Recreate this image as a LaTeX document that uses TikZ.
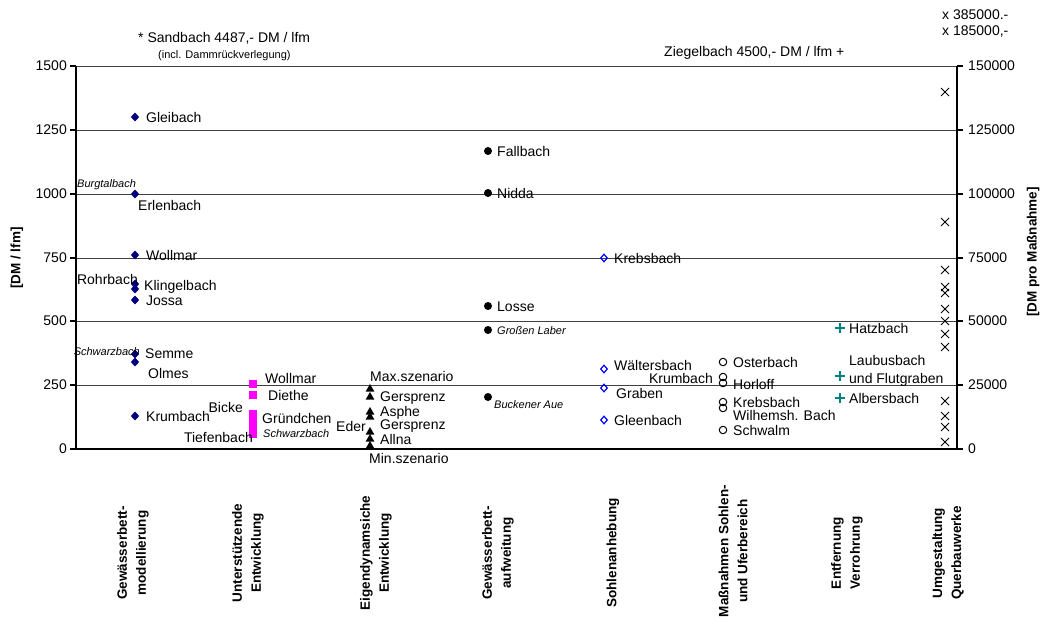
\documentclass[tikz,border=0pt]{standalone}
\usepackage{fontspec}
\setmainfont{Liberation Sans}
\usetikzlibrary{shapes.geometric,shapes.misc}
\definecolor{navy}{RGB}{0,0,128}
\definecolor{mag}{RGB}{255,0,255}
\definecolor{tealc}{RGB}{0,128,128}
\definecolor{blu}{RGB}{0,0,255}
\begin{document}
\begin{tikzpicture}[x=1pt,y=-1pt,
 lab/.style={anchor=base west, inner sep=0pt, font=\fontsize{14}{16}\selectfont},
 labE/.style={lab, anchor=base east},
 sml/.style={anchor=base west, inner sep=0pt, font=\fontsize{11}{13}\selectfont\itshape},
 smlE/.style={sml, anchor=base east},
 tickl/.style={inner sep=0pt, anchor=east, font=\fontsize{14}{16}\selectfont},
 tickr/.style={inner sep=0pt, anchor=west, font=\fontsize{14}{16}\selectfont},
 cat/.style={rotate=90, align=center, font=\fontsize{13.5}{19}\selectfont\bfseries, inner sep=0pt},
 gridl/.style={draw=black!75, line width=0.8pt},
 axisl/.style={draw=black, line width=1.1pt},
 dia/.style={diamond, fill=navy, inner sep=0pt, minimum width=8.5pt, minimum height=9pt},
 sq/.style={rectangle, fill=mag, inner sep=0pt, minimum size=8pt},
 tri/.style={regular polygon, regular polygon sides=3, fill=black, inner sep=0pt, minimum size=10pt},
 dot/.style={circle, fill=black, inner sep=0pt, minimum size=8pt},
 odia/.style={diamond, draw=blu, line width=1.2pt, inner sep=0pt, minimum width=7pt, minimum height=8pt},
 ocirc/.style={circle, draw=black, line width=1pt, inner sep=0pt, minimum size=7.5pt},
 plusm/.style={cross out, draw=tealc, line width=1.2pt, rotate=45, inner sep=0pt, minimum size=6.4pt},
 xm/.style={cross out, draw=black, line width=1pt, inner sep=0pt, minimum size=7pt}
]
\useasboundingbox (0,0) rectangle (1040,623);
\fill[white] (0,0) rectangle (1040,623);
% grid
\foreach \yy in {66,130,194,258,321,385} \draw[gridl] (76,\yy) -- (957,\yy);
\draw[axisl] (76,66) -- (76,449) -- (957,449) -- (957,66);
\foreach \yy in {66,130,194,258,321,385,449} {
  \draw[axisl] (70,\yy) -- (76,\yy);
  \draw[axisl] (957,\yy) -- (963,\yy);
}
% tick labels
\node[tickl] (l0) at (67,449) {0};
\node[tickl] (l1) at (67,385) {250};
\node[tickl] (l2) at (67,321) {500};
\node[tickl] (l3) at (67,258) {750};
\node[tickl] (l4) at (67,194) {1000};
\node[tickl] (l5) at (67,130) {1250};
\node[tickl] (l6) at (67,66) {1500};
\node[tickr] (r0) at (968,449) {0};
\node[tickr] (r1) at (968,385) {25000};
\node[tickr] (r2) at (968,321) {50000};
\node[tickr] (r3) at (968,258) {75000};
\node[tickr] (r4) at (968,194) {100000};
\node[tickr] (r5) at (968,130) {125000};
\node[tickr] (r6) at (968,66) {150000};
% axis titles
\node[cat] (yl) at (17,258) {[DM / lfm]};
\node[cat] (yr) at (1033,252) {[DM pro Maßnahme]};
% top texts
\node[lab] (t1) at (138,43) {* Sandbach 4487,- DM / lfm};
\node[anchor=base west, inner sep=0pt, font=\fontsize{11}{13}\selectfont] (t2) at (158,59) {(incl. Dammrückverlegung)};
\node[lab] (t3) at (664,57) {Ziegelbach 4500,- DM / lfm +};
\node[lab] (t4) at (942,20) {x 385000.-};
\node[lab] (t5) at (942,36) {x 185000,-};
% column 1
\node[dia] (a1) at (135,117) {};
\node[dia] (a2) at (135,194) {};
\node[dia] (a3) at (135,255) {};
\node[dia] (a4) at (135,284) {};
\node[dia] (a5) at (135,289) {};
\node[dia] (a6) at (135,300) {};
\node[dia] (a7) at (135,354) {};
\node[dia] (a8) at (135,362) {};
\node[dia] (a9) at (135,416) {};
\node[lab] (al1) at (146,122) {Gleibach};
\node[sml] (al2) at (77,187) {Burgtalbach};
\node[lab] (al3) at (138,210) {Erlenbach};
\node[lab] (al4) at (146,260) {Wollmar};
\node[labE] (al5) at (138,284) {Rohrbach};
\node[lab] (al6) at (144,290) {Klingelbach};
\node[lab] (al7) at (146,305) {Jossa};
\node[smlE] (al8) at (140,355) {Schwarzbach};
\node[lab] (al9) at (145,358) {Semme};
\node[lab] (al10) at (148,378) {Olmes};
\node[lab] (al11) at (146,421) {Krumbach};
% column 2
\node[sq] (b1) at (253,384) {};
\node[sq] (b2) at (253,395) {};
\node[sq] (b3) at (253,414) {};
\node[sq] (b4) at (253,419) {};
\node[sq] (b5) at (253,424) {};
\node[sq] (b6) at (253,429) {};
\node[sq] (b7) at (253,434) {};
\node[lab] (bl1) at (265,383) {Wollmar};
\node[lab] (bl2) at (268,400) {Diethe};
\node[labE] (bl3) at (243,412) {Bicke};
\node[lab] (bl4) at (262,423) {Gründchen};
\node[sml] (bl5) at (263,437) {Schwarzbach};
\node[labE] (bl6) at (253,442) {Tiefenbach};
% column 3
\node[tri] (c1) at (370,389) {};
\node[tri] (c2) at (370,397) {};
\node[tri] (c3) at (370,412) {};
\node[tri] (c4) at (370,417) {};
\node[tri] (c5) at (370,432) {};
\node[tri] (c6) at (370,439) {};
\node[tri] (c7) at (370,446) {};
\node[lab] (cl1) at (370,381) {Max.szenario};
\node[lab] (cl2) at (380,401) {Gersprenz};
\node[lab] (cl3) at (380,416) {Asphe};
\node[labE] (cl4) at (366,431) {Eder};
\node[lab] (cl5) at (380,429) {Gersprenz};
\node[lab] (cl6) at (380,444) {Allna};
\node[lab] (cl7) at (369,463) {Min.szenario};
% column 4
\node[dot] (d1) at (488,151) {};
\node[dot] (d2) at (488,193) {};
\node[dot] (d3) at (488,306) {};
\node[dot] (d4) at (488,330) {};
\node[dot] (d5) at (488,397) {};
\node[lab] (dl1) at (497,156) {Fallbach};
\node[lab] (dl2) at (497,198) {Nidda};
\node[lab] (dl3) at (497,311) {Losse};
\node[sml] (dl4) at (497,334) {Großen Laber};
\node[sml] (dl5) at (494,408) {Buckener Aue};
% column 5
\node[odia] (e1) at (604,258) {};
\node[odia] (e2) at (604,369) {};
\node[odia] (e3) at (604,388) {};
\node[odia] (e4) at (604,420) {};
\node[lab] (el1) at (614,263) {Krebsbach};
\node[lab] (el2) at (614,370) {Wältersbach};
\node[lab] (el3) at (616,398) {Graben};
\node[lab] (el4) at (614,425) {Gleenbach};
% column 6
\node[ocirc] (f1) at (723,362) {};
\node[ocirc] (f2) at (723,377) {};
\node[ocirc] (f3) at (723,383) {};
\node[ocirc] (f4) at (723,402) {};
\node[ocirc] (f5) at (723,408) {};
\node[ocirc] (f6) at (723,430) {};
\node[lab] (fl1) at (733,367) {Osterbach};
\node[labE] (fl2) at (713,383) {Krumbach};
\node[lab] (fl3) at (733,389) {Horloff};
\node[lab] (fl4) at (733,407) {Krebsbach};
\node[lab] (fl5) at (733,420) {Wilhemsh. Bach};
\node[lab] (fl6) at (733,435) {Schwalm};
% column 7
\node[plusm] (g1) at (840,328) {};
\node[plusm] (g2) at (840,376) {};
\node[plusm] (g3) at (840,398) {};
\node[lab] (gl1) at (849,333) {Hatzbach};
\node[lab] (gl2) at (849,365) {Laubusbach};
\node[lab] (gl3) at (849,383) {und Flutgraben};
\node[lab] (gl4) at (849,403) {Albersbach};
% column 8
\foreach \yy [count=\i] in {92,222,270,287,293,309,321,334,347,401,416,427,442}
  \node[xm] (h\i) at (945,\yy) {};
% category labels
\node[cat] (k1) at (133,553) {Gewässerbett-\\modellierung};
\node[cat] (k2) at (248,553) {Unterstützende\\Entwicklung};
\node[cat] (k3) at (376,553) {Eigendynamsiche\\Entwicklung};
\node[cat] (k4) at (498,553) {Gewässerbett-\\aufweitung};
\node[cat] (k5) at (613,553) {Sohlenanhebung};
\node[cat] (k6) at (733,551) {Maßnahmen Sohlen-\\und Uferbereich};
\node[cat] (k7) at (847,553) {Entfernung\\Verrohrung};
\node[cat] (k8) at (948,553) {Umgestaltung\\Querbauwerke};
\end{tikzpicture}
\end{document}
